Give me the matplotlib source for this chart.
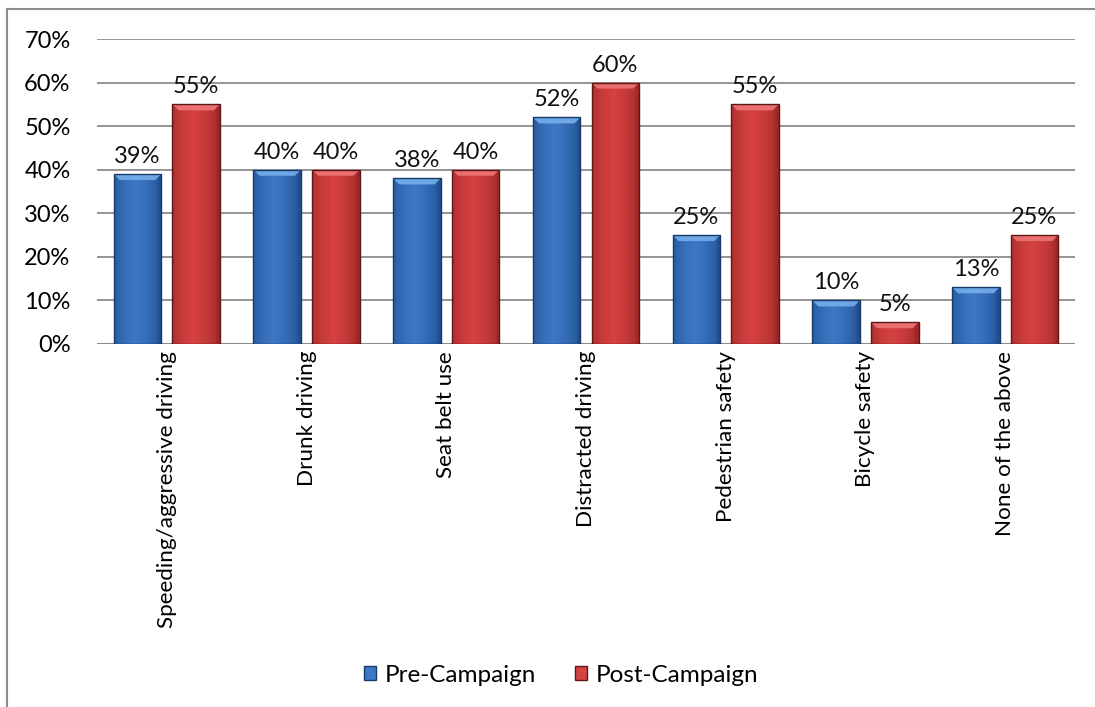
import numpy as np
import matplotlib.pyplot as plt
from matplotlib.patches import Rectangle, Polygon, Patch
from matplotlib.lines import Line2D
from matplotlib.colors import to_rgb

categories = ["Speeding/aggressive driving", "Drunk driving", "Seat belt use",
              "Distracted driving", "Pedestrian safety", "Bicycle safety",
              "None of the above"]
pre_campaign = [39, 40, 38, 52, 25, 10, 13]
post_campaign = [55, 40, 40, 60, 55, 5, 25]
series_names = ["Pre-Campaign", "Post-Campaign"]
y_ticks = [0, 10, 20, 30, 40, 50, 60, 70]

plt.rcParams['font.family'] = ['Lato', 'DejaVu Sans']

W, H = 1095, 707
fig = plt.figure(figsize=(W / 100, H / 100), dpi=100)
ax = fig.add_axes([97 / W, 363 / H, 978 / W, 305 / H])

styles = [
    dict(mid="#3d78c6", edge="#1f4f8f", top="#79b2ee", line="#173a66"),
    dict(mid="#d64242", edge="#9e2626", top="#f07a7a", line="#5e1717"),
]

bar_w = 0.34
offsets = [-0.21, 0.21]
x = np.arange(len(categories))

ax.set_xlim(-0.5, len(categories) - 0.5)
ax.set_ylim(0, 70)

# pixel -> data helpers for the bevel size
px_x = 1.0 / (978 / len(categories))
px_y = 70 / 305


def gradient_bar(xc, h, st):
    left = xc - bar_w / 2
    right = xc + bar_w / 2
    rect = Rectangle((left, 0), bar_w, h, facecolor="none", edgecolor="none")
    ax.add_patch(rect)
    # horizontal shading: darker edges, lighter middle
    t = np.linspace(0, 1, 64)
    prof = np.clip(1 - np.abs(t - 0.45) * 2.0, 0, 1) ** 0.5
    c_mid = np.array(to_rgb(st["mid"]))
    c_edge = np.array(to_rgb(st["edge"]))
    img = c_edge[None, :] + (c_mid - c_edge)[None, :] * prof[:, None]
    img = img[None, :, :]
    im = ax.imshow(img, extent=(left, right, 0, h), aspect="auto",
                   interpolation="bilinear", zorder=2)
    im.set_clip_path(rect)
    # top bevel
    bx, by = 6 * px_x, 6 * px_y
    if h > by * 1.5:
        top = Polygon([(left, h), (right, h), (right - bx, h - by),
                       (left + bx, h - by)], closed=True,
                      facecolor=st["top"], edgecolor="none", alpha=0.85, zorder=3)
        ax.add_patch(top)
    ax.add_patch(Rectangle((left, 0), bar_w, h, facecolor="none",
                           edgecolor=st["line"], linewidth=1.0, zorder=4))


for vals, off, st in zip([pre_campaign, post_campaign], offsets, styles):
    for xi, v in zip(x, vals):
        gradient_bar(xi + off, v, st)
        ax.text(xi + off, v + 1.6, f"{v}%", ha="center", va="bottom",
                fontsize=17, color="#111111", zorder=5)

ax.set_ylim(0, 70)
ax.set_xlim(-0.5, len(categories) - 0.5)

ax.set_yticks(y_ticks)
ax.set_yticklabels([f"{t}%" for t in y_ticks], fontsize=17)
ax.yaxis.grid(True, color="#8c8c8c", linewidth=1.3, zorder=0)
ax.set_axisbelow(True)
ax.tick_params(axis="y", length=0, pad=19)
ax.set_xticks(x)
ax.set_xticklabels(categories, rotation=90, fontsize=16.2, va="top", ha="center")
ax.tick_params(axis="x", length=0, pad=5)
for s in ax.spines.values():
    s.set_visible(False)
ax.axhline(0, color="#8c8c8c", linewidth=1.5, zorder=1)

handles = [Patch(facecolor=st["mid"], edgecolor=st["line"]) for st in styles]
fig.legend(handles, series_names, loc="center", ncol=2, frameon=False,
           bbox_to_anchor=(561 / W, 1 - 675 / H), fontsize=17.5,
           handlelength=0.5, handleheight=0.5, handletextpad=0.35,
           columnspacing=1.6)

# chart frame (top and left edges)
fig.add_artist(Line2D([6.5 / W, 6.5 / W], [0, 1 - 8.5 / H], transform=fig.transFigure,
                      color="#8c8c8c", linewidth=1.5))
fig.add_artist(Line2D([6.5 / W, 1], [1 - 8.5 / H, 1 - 8.5 / H], transform=fig.transFigure,
                      color="#8c8c8c", linewidth=1.5))

fig.savefig("out.png", dpi=100, facecolor="white")
